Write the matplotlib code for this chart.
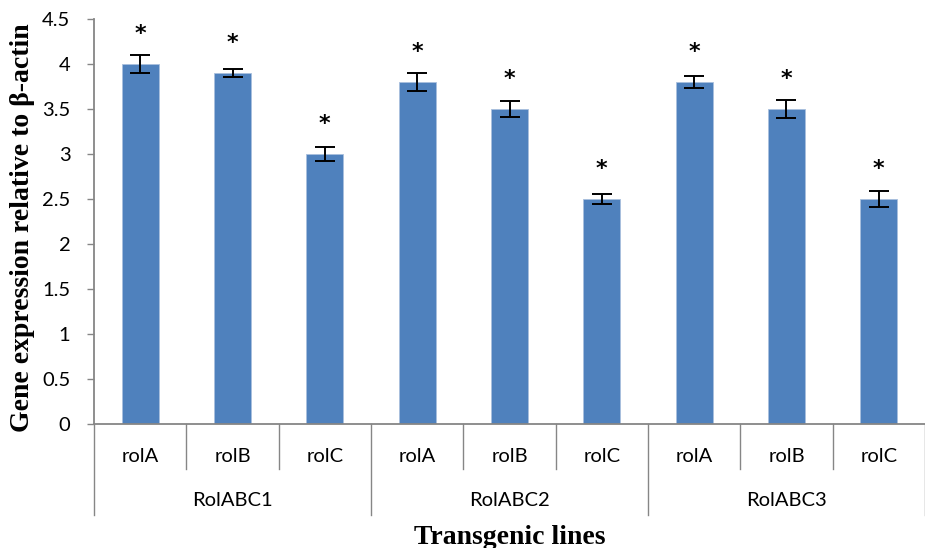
import numpy as np
import matplotlib
matplotlib.use("Agg")
import matplotlib.pyplot as plt
import matplotlib.transforms as mtransforms
from matplotlib.ticker import FormatStrFormatter

genes = ["rolA", "rolB", "rolC"]
lines = ["RolABC1", "RolABC2", "RolABC3"]
values = [4.0, 3.9, 3.0, 3.8, 3.5, 2.5, 3.8, 3.5, 2.5]
errors = [0.10, 0.04, 0.08, 0.10, 0.09, 0.06, 0.07, 0.10, 0.09]
yticks = [0, 0.5, 1, 1.5, 2, 2.5, 3, 3.5, 4, 4.5]

tick_font = "Lato"
serif = "Liberation Serif"
grey = "#868686"

fig = plt.figure(figsize=(9.25, 5.48), dpi=100)
ax = fig.add_axes([94 / 925, 124 / 548, 831 / 925, 405 / 548])

x = np.arange(len(values))
ax.bar(x, values, width=0.4, color="#4F81BD", edgecolor="#a9c0dd", linewidth=0.6, zorder=2)
ax.errorbar(x, values, yerr=errors, fmt="none", ecolor="black",
            elinewidth=1.4, capsize=7, capthick=1.4, zorder=3)

# significance stars
for xi, v in zip(x, values):
    ax.text(xi, v + 0.33, "*", ha="center", va="center", fontsize=16,
            fontweight="bold", family="DejaVu Sans")

ax.set_xlim(-0.5, len(values) - 0.5)
ax.set_ylim(0, 4.5)
ax.set_yticks(yticks)
ax.yaxis.set_major_formatter(FormatStrFormatter("%g"))
ax.tick_params(axis="y", length=5, width=1, color=grey, pad=12, labelsize=14.5)
for lab in ax.get_yticklabels():
    lab.set_family(tick_font)
ax.set_xticks([])

for s in ["top", "right"]:
    ax.spines[s].set_visible(False)
for s in ["left", "bottom"]:
    ax.spines[s].set_color(grey)
    ax.spines[s].set_linewidth(1.3)

# two-level category axis
trans = mtransforms.blended_transform_factory(ax.transData, ax.transAxes)
px = 1 / 405
for i in range(len(values) + 1):
    pos = i - 0.5
    depth = 91 * px if i % 3 == 0 else 45 * px
    ax.plot([pos, pos], [0, -depth], color=grey, lw=1, transform=trans, clip_on=False)

for i, xi in enumerate(x):
    ax.text(xi, -32 * px, genes[i % 3], transform=trans, ha="center", va="center",
            fontsize=14.5, family=tick_font)
for j, name in enumerate(lines):
    ax.text(3 * j + 1, -76 * px, name, transform=trans, ha="center", va="center",
            fontsize=14.5, family=tick_font)

fig.text(23 / 925, 1 - 228 / 548, "Gene expression relative to \u03b2-actin", rotation=90,
         ha="center", va="center", fontsize=20, fontweight="bold", family=serif)
fig.text(510 / 925, 1 - 537 / 548, "Transgenic lines", ha="center", va="center",
         fontsize=20, fontweight="bold", family=serif)

fig.savefig("out.png", dpi=100)
